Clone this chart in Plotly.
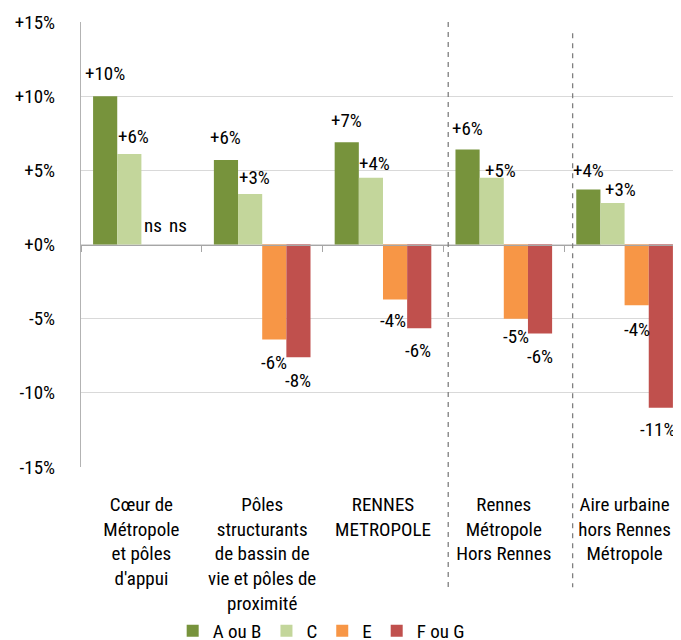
import plotly.graph_objects as go

categories = [
    "Cœur de<br>Métropole<br>et pôles<br>d'appui",
    "Pôles<br>structurants<br>de bassin de<br>vie et pôles de<br>proximité",
    "RENNES<br>METROPOLE",
    "Rennes<br>Métropole<br>Hors Rennes",
    "Aire urbaine<br>hors Rennes<br>Métropole",
]
series_names = ["A ou B", "C", "E", "F ou G"]
values_ab = [10.0, 5.7, 6.9, 6.4, 3.7]
values_c = [6.1, 3.4, 4.5, 4.5, 2.8]
values_e = [None, -6.4, -3.7, -5.0, -4.1]
values_fg = [None, -7.6, -5.65, -6.0, -11.0]
labels_ab = ["+10%", "+6%", "+7%", "+6%", "+4%"]
labels_c = ["+6%", "+3%", "+4%", "+5%", "+3%"]
labels_e = ["ns", "-6%", "-4%", "-5%", "-4%"]
labels_fg = ["ns", "-8%", "-6%", "-6%", "-11%"]
y_tickvals = [-15, -10, -5, 0, 5, 10, 15]
y_ticktext = ["-15%", "-10%", "-5%", "+0%", "+5%", "+10%", "+15%"]

all_values = [values_ab, values_c, values_e, values_fg]
all_labels = [labels_ab, labels_c, labels_e, labels_fg]
colors = ["#77933C", "#C3D69B", "#F79646", "#C0504D"]

# label nudges in screen pixels (dx right, dy down) relative to bar end
label_dx = [[0, 0, 0, 0, 0], [4, 4, 4, 9, 8], [0, 0, -2, 0, 0], [0, 0, -1, 0, -3]]
label_dy = [[-23, -22, -22, -21, -19], [-18, -17, -14, -7, -13],
            [-19, 23, 21, 18, 24], [-19, 23, 22, 23, 22]]

FONT = "Roboto Condensed, DejaVu Sans Condensed, sans-serif"
FS = 19

fig = go.Figure()
for name, vals, col in zip(series_names, all_values, colors):
    fig.add_trace(go.Bar(
        x=categories, y=vals, name=name,
        marker=dict(color=col, line=dict(width=0)),
        hoverinfo="skip",
    ))

# dummy trace for the zero-line axis
fig.add_trace(go.Scatter(x=categories, y=[None] * 5, xaxis="x2", showlegend=False,
                         hoverinfo="skip", mode="markers"))

n = len(series_names)
bar_w = 0.8 / n
annotations = []
for si in range(n):
    for ci in range(len(categories)):
        v = all_values[si][ci]
        off = -0.4 + bar_w * (si + 0.5)
        annotations.append(dict(
            x=ci + off, y=(v if v is not None else 0), xref="x", yref="y",
            text=all_labels[si][ci], showarrow=False,
            xanchor="center", yanchor="middle",
            xshift=label_dx[si][ci], yshift=-label_dy[si][ci],
            font=dict(family=FONT, size=FS, color="#000000"),
        ))

xr = [-0.5, 4.467]
fig.update_layout(
    width=673, height=632,
    margin=dict(l=73, r=0, t=14, b=173, autoexpand=False),
    paper_bgcolor="white", plot_bgcolor="white",
    barmode="group", bargap=0.2, bargroupgap=0,
    font=dict(family=FONT, size=FS, color="#000000"),
    showlegend=True,
    legend=dict(orientation="h", xref="container", yref="container",
                x=0.2447, xanchor="left", y=0.0445, yanchor="top",
                font=dict(family=FONT, size=FS, color="#000000"),
                bgcolor="rgba(0,0,0,0)", itemclick=False, itemdoubleclick=False),
    xaxis=dict(type="category", range=xr, showline=False, showgrid=False, ticks="",
               zeroline=False, automargin=False,
               tickfont=dict(family=FONT, size=FS, color="#000000"),
               ticklabelstandoff=24),
    xaxis2=dict(type="category", range=xr, overlaying="x", anchor="free", position=0.5,
                showline=True, linecolor="#A6A6A6", linewidth=1.3, automargin=False,
                ticks="outside", tickson="boundaries", ticklen=6, tickcolor="#A6A6A6",
                tickwidth=1.3, showticklabels=False, showgrid=False, zeroline=False),
    yaxis=dict(range=[-15, 15], tickvals=y_tickvals, ticktext=y_ticktext,
               showgrid=True, gridcolor="#D9D9D9", gridwidth=1.3, zeroline=False,
               showline=True, linecolor="#B3B3B3", linewidth=1.3, ticks="",
               ticklabelstandoff=21, automargin=False,
               tickfont=dict(family=FONT, size=FS, color="#000000")),
    annotations=annotations,
    shapes=[
        dict(type="line", xref="x", yref="paper", x0=2.54, x1=2.54, y0=1.0, y1=-0.27,
             line=dict(color="#7F7F7F", width=1.3, dash="5px,5px"), layer="above"),
        dict(type="line", xref="x", yref="paper", x0=3.57, x1=3.57, y0=0.975, y1=-0.27,
             line=dict(color="#7F7F7F", width=1.3, dash="5px,5px"), layer="above"),
    ],
)

fig.write_html("out.html")
